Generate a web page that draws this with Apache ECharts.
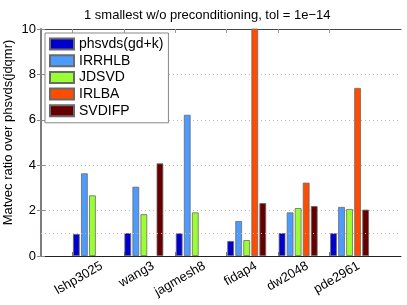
<!DOCTYPE html>
<html>
<head>
<meta charset="utf-8">
<script src="https://cdn.jsdelivr.net/npm/echarts@6/dist/echarts.min.js"></script>
<style>
html,body{margin:0;padding:0;background:#fff;}
#c{width:407px;height:305px;}
</style>
</head>
<body>
<div id="c"></div>
<script>
const categories = ['lshp3025', 'wang3', 'jagmesh8', 'fidap4', 'dw2048', 'pde2961'];
const seriesNames = ['phsvds(gd+k)', 'IRRHLB', 'JDSVD', 'IRLBA', 'SVDIFP'];
const phsvds = [0.97, 1.01, 1.0, 0.66, 1.01, 1.0];
const irrhlb = [3.64, 3.05, 6.22, 1.54, 1.92, 2.16];
const jdsvd  = [2.67, 1.84, 1.92, 0.70, 2.11, 2.07];
const irlba  = [null, null, null, 10.5, 3.23, 7.40];
const svdifp = [null, 4.08, null, 2.33, 2.20, 2.04];
const yTicks = [0, 2, 4, 6, 8, 10];
const refLine = 1;

const colors = ['#0000CC', '#4C9BFF', '#99FF33', '#FF4C00', '#660000'];
const values = [phsvds, irrhlb, jdsvd, irlba, svdifp];
const font = "'Liberation Sans', Arial, Helvetica, sans-serif";

const catAxisData = [''].concat(categories, ['']);
const tickPos = categories.map((c, i) => i + 1 - 0.39);
const labelPos = categories.map((c, i) => i + 1 + 0.18);

const series = seriesNames.map((name, s) => ({
  name: name,
  type: 'bar',
  xAxisIndex: 0,
  yAxisIndex: 0,
  barWidth: 6.7,
  barGap: '20%',
  data: [null].concat(values[s], [null]),
  itemStyle: { color: colors[s], borderColor: '#6a6a6a', borderWidth: 0.8 },
  emphasis: { disabled: true },
  markLine: s === 0 ? {
    silent: true, symbol: 'none', label: { show: false },
    lineStyle: { color: '#f4a0a0', type: [1, 3], width: 1 },
    data: [{ yAxis: refLine }]
  } : undefined
}));

const chart = echarts.init(document.getElementById('c'), null, { renderer: 'canvas' });
chart.setOption({
  animation: false,
  backgroundColor: '#fff',
  textStyle: { fontFamily: font },
  title: {
    text: '1 smallest w/o preconditioning, tol = 1e\u221214',
    left: 79, top: 4,
    textStyle: { fontFamily: font, fontSize: 13, fontWeight: 'normal', color: '#000' }
  },
  legend: {
    orient: 'vertical', left: 45, top: 33,
    itemWidth: 24, itemHeight: 11, itemGap: 0.7,
    icon: 'rect',
    padding: [3, 5, 4, 4],
    backgroundColor: '#fff', borderColor: '#888', borderWidth: 1,
    textStyle: { fontFamily: font, fontSize: 14, color: '#000', lineHeight: 16 },
    data: seriesNames
  },
  grid: { left: 41, right: 6, top: 29, bottom: 49, containLabel: false, outerBoundsMode: 'none' },
  xAxis: [
    {
      type: 'category', data: catAxisData, boundaryGap: false, position: 'bottom',
      axisLine: { show: true, lineStyle: { color: '#222', width: 1 } },
      axisTick: { show: false }, axisLabel: { show: false }, splitLine: { show: false }
    },
    {
      type: 'value', min: 0, max: 7, position: 'bottom',
      axisLine: { show: false },
      axisTick: { show: true, inside: true, length: 4, customValues: tickPos, lineStyle: { color: '#777' } },
      axisLabel: {
        show: true, customValues: labelPos, rotate: 30, margin: 9,
        fontFamily: font, fontSize: 13, color: '#000',
        formatter: function (v) { return categories[Math.round(v - 0.18) - 1] || ''; }
      },
      splitLine: { show: false }
    },
    {
      type: 'value', min: 0, max: 7, position: 'top',
      axisLine: { show: true, lineStyle: { color: '#444', width: 1 } },
      axisTick: { show: true, inside: true, length: 4, customValues: tickPos, lineStyle: { color: '#999' } },
      axisLabel: { show: false }, splitLine: { show: false }
    }
  ],
  yAxis: [
    {
      type: 'value', min: 0, max: 10, interval: 2, position: 'left',
      name: 'Matvec ratio over phsvds(jdqmr)', nameLocation: 'middle', nameGap: 26,
      nameMoveOverlap: false,
      nameTextStyle: { fontFamily: font, fontSize: 13, color: '#000', padding: [0, 0, 0, 20] },
      axisLine: { show: true, lineStyle: { color: '#666', width: 1.5 } },
      axisTick: { show: true, inside: true, length: 4, lineStyle: { color: '#888' } },
      axisLabel: { fontFamily: font, fontSize: 13, color: '#000', margin: 5,
        formatter: function (v) { return yTicks.indexOf(v) >= 0 ? String(v) : ''; } },
      splitLine: { show: true, lineStyle: { color: '#bbb', type: [1, 3], width: 1 } }
    },
    {
      type: 'value', min: 0, max: 10, interval: 2, position: 'right',
      axisLine: { show: true, lineStyle: { color: '#777', width: 1.5 } },
      axisTick: { show: true, inside: true, length: 4, lineStyle: { color: '#888' } },
      axisLabel: { show: false }, splitLine: { show: false }
    }
  ],
  series: series
});
</script>
</body>
</html>
